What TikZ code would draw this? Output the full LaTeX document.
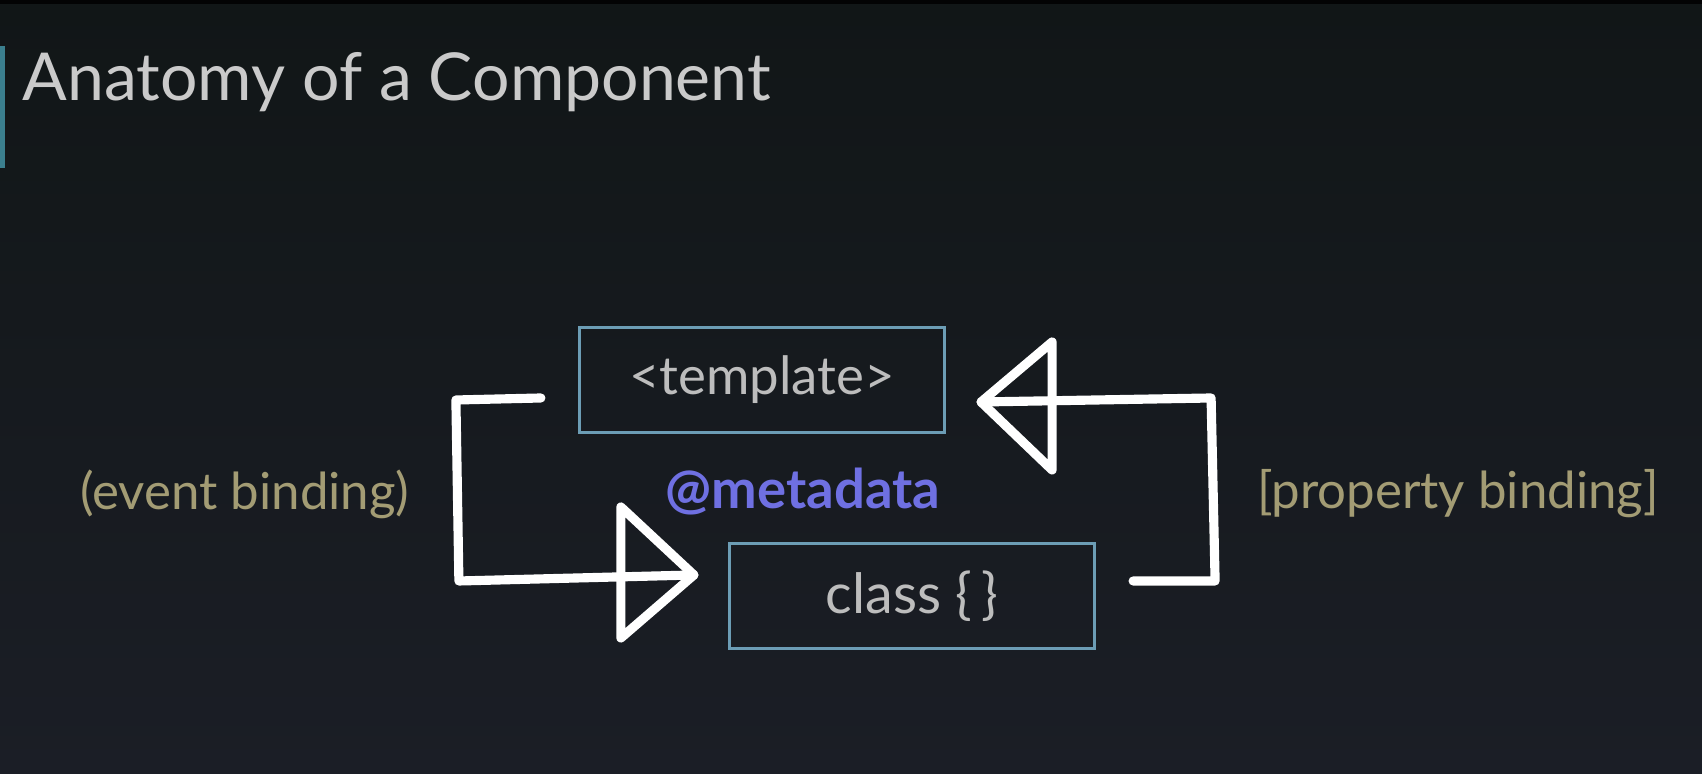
\documentclass[tikz,border=0pt]{standalone}
\usepackage{fontspec}
\setmainfont{Lato}
\usetikzlibrary{calc}

\definecolor{slidetop}{HTML}{111617}
\definecolor{slidebot}{HTML}{1B1E26}
\definecolor{titlegrey}{HTML}{CACACA}
\definecolor{codegrey}{HTML}{BDBDBD}
\definecolor{boxblue}{HTML}{6C9DB5}
\definecolor{metaviolet}{HTML}{6F70E2}
\definecolor{bindkhaki}{HTML}{A39C74}
\definecolor{tealbar}{HTML}{3B7F8E}

\tikzset{
  codebox/.style={draw=boxblue, line width=0.85pt, minimum width=3.65cm, minimum height=1.05cm,
    inner sep=0pt, text=codegrey, font=\fontsize{15}{18}\selectfont},
  bindlabel/.style={text=bindkhaki, font=\fontsize{14.5}{17}\selectfont, inner sep=0pt},
  penline/.style={draw=white, line width=2.6pt, line cap=round, line join=round},
}

\begin{document}
\begin{tikzpicture}[x=0.01cm,y=-0.01cm]
  % Slide background
  \shade[top color=slidetop, bottom color=slidebot] (0,0) rectangle (1702,774);
  \useasboundingbox (0,0) rectangle (1702,774);
  \fill[black!85!slidetop] (0,0) rectangle (1702,4);
  \fill[tealbar] (0,46) rectangle (5,168);

  % Title
  \node[anchor=base west, text=titlegrey, font=\fontsize{18.8}{22}\selectfont, inner sep=0pt]
    (title) at (22,101) {Anatomy of a Component};

  % Boxes
  \node[codebox] (tmpl) at (762,380) {<template>};
  \node[codebox, font=\fontsize{15.8}{18}\selectfont] (cls) at (912,596) {class \{\,\}};
  \node[text=metaviolet, font=\bfseries\fontsize{15.5}{18}\selectfont, inner sep=0pt]
    (meta) at (803,492) {@metadata};

  % Binding labels
  \node[bindlabel] (evt) at (245,494) {(event binding)};
  \node[bindlabel] (prop) at (1458,494) {[property binding]};

  % Event binding: template -> class
  \coordinate (evtstart) at ($(tmpl.west)+(-37,18)$);
  \coordinate (evttip) at ($(cls.west)+(-34,-21)$);
  \draw[penline] (evtstart) -- ++(-85,2) -- ++(3,181) -- (evttip);
  \draw[penline] (evttip) -- ++(-73,-68) -- ++(0,131) -- cycle;

  % Property binding: class -> template
  \coordinate (propstart) at ($(cls.east)+(37,-15)$);
  \coordinate (proptip) at ($(tmpl.east)+(35,22)$);
  \draw[penline] (propstart) -- ++(82,0) -- ++(-4,-183) -- (proptip);
  \draw[penline] (proptip) -- ++(71,-60) -- ++(0,128) -- cycle;
\end{tikzpicture}
\end{document}
